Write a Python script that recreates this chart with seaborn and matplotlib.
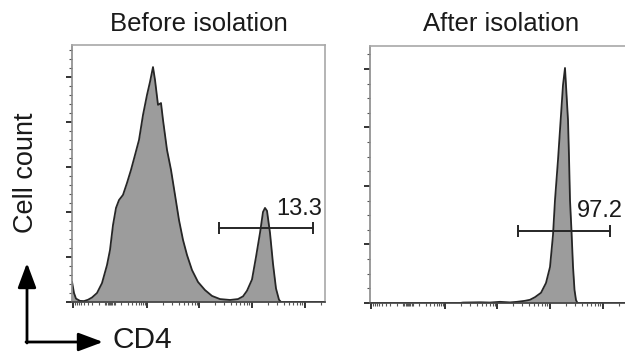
import numpy as np
import pandas as pd
import matplotlib
matplotlib.use('Agg')
import matplotlib.pyplot as plt
import seaborn as sns

# Data ======================================================================================================
# x in display channels (biexponential CD4 axis), y = cell count
before_ch = [0, 2, 4, 8, 12, 16, 20, 25, 30, 35, 38, 41, 44, 47, 51, 55, 59, 63, 67, 71, 75, 78, 81,
             83, 86, 89, 91, 95, 99, 103, 107, 111, 115, 120, 126, 133, 140, 148, 158, 166, 171, 175,
             180, 184, 188, 191, 193, 195, 198, 201, 204, 207, 209, 253]
before_count = [90, 40, 15, 5, 4, 10, 20, 40, 84, 164, 231, 342, 418, 453, 476, 529, 587, 653, 720, 831,
                920, 978, 1044, 987, 876, 884, 809, 676, 587, 476, 364, 276, 209, 142, 89, 53, 27, 13,
                9, 13, 25, 50, 100, 200, 307, 400, 418, 405, 307, 170, 60, 10, 0, 0]

after_ch = [0, 90, 93, 110, 120, 130, 140, 147, 155, 160, 165, 171, 176, 180, 183, 185, 188, 191, 193,
            195, 198, 199, 200, 201.5, 203, 204.5, 206, 207.5, 257]
after_count = [0, 0, 3, 5, 3, 8, 4, 8, 15, 22, 40, 70, 137, 246, 465, 704, 978, 1285, 1490, 1607, 1250,
               1000, 704, 492, 250, 90, 20, 0, 0]

panels = ['Before isolation', 'After isolation']
gate_pct = ['13.3', '97.2']
gate_lo = [147, 148]
gate_hi = [241, 240]
gate_y = [329, 492]
label_x = [250, 253]
label_y = [387, 588]

# Estilo =====================================================================================================
sns.set_style('ticks')
plt.rcParams['font.family'] = ['Liberation Sans', 'DejaVu Sans']

fill_c = '#9c9c9c'
line_c = '#262626'

fig = plt.figure(figsize=(6.25, 3.56), dpi=100)
ax1 = fig.add_axes([72/625, 54/356, 253/625, 257/356])
ax2 = fig.add_axes([370/625, 53/356, 257/625, 257/356])

x_major = [1, 75, 127, 180, 233]
dec = 52.7
x_minor = []
for base in [75, 127, 180, 233]:
    for k in range(2, 10):
        p = base + dec * np.log10(k)
        if p < 253:
            x_minor.append(p)
for k in range(2, 10):
    x_minor += [38 + 37 * np.log10(k), 38 - 37 * np.log10(k)]
x_minor += [38 + d for d in [-4.8, -3.6, -2.4, -1.2, 0, 1.2, 2.4, 3.6, 4.8]]

def draw(ax, ch, cnt, xmax, ymax, ymaj, ymin, i):
    df = pd.DataFrame({'ch': ch, 'count': cnt})
    ax.fill_between(df['ch'], df['count'], 0, color=fill_c, lw=0)
    sns.lineplot(data=df, x='ch', y='count', ax=ax, color=line_c, lw=1.3,
                 estimator=None, sort=False)
    ax.set_xlim(0, xmax)
    ax.set_ylim(0, ymax)
    ax.set_xticks(x_major)
    ax.set_xticks(x_minor, minor=True)
    ax.set_yticks(np.arange(0, ymax, ymaj))
    ax.set_yticks(np.arange(0, ymax, ymin), minor=True)
    ax.set_xticklabels([]); ax.set_yticklabels([])
    ax.set_xlabel(''); ax.set_ylabel('')
    ax.tick_params(which='major', direction='out', length=4.5, width=1.4, color='#333333')
    ax.tick_params(which='minor', direction='out', length=2.2, width=0.8, color='#555555')
    for s in ['top', 'right']:
        ax.spines[s].set_color('#a8a8a8')
        ax.spines[s].set_linewidth(1.2)
    ax.spines['left'].set_color('#8a8a8a')
    ax.spines['left'].set_linewidth(1.2)
    ax.spines['bottom'].set_color('#404040')
    ax.spines['bottom'].set_linewidth(1.2)

    # gate
    ax.plot([gate_lo[i], gate_hi[i]], [gate_y[i], gate_y[i]], color=line_c, lw=1.4)
    ax.plot([gate_lo[i], gate_hi[i]], [gate_y[i], gate_y[i]], ls='none', marker='|',
            ms=9, mew=1.4, color=line_c)
    ax.text(label_x[i], label_y[i], gate_pct[i], ha='right', va='baseline',
            fontsize=17, color='#1a1a1a')

draw(ax1, before_ch, before_count, 253, 1142, 200, 40, 0)
draw(ax2, after_ch, after_count, 257, 1757, 400, 100, 1)

# Titulos y ejes ==============================================================================================
fig.text(199/625, 1 - 24/356, panels[0], ha='center', va='center', fontsize=18.5, color='#1a1a1a')
fig.text(501/625, 1 - 24/356, panels[1], ha='center', va='center', fontsize=18.5, color='#1a1a1a')
fig.text(26/625, 1 - 173/356, 'Cell count', ha='center', va='center', rotation=90,
         fontsize=19.5, color='#1a1a1a')
fig.text(112/625, 1 - 340/356, 'CD4', ha='left', va='center', fontsize=21.5, color='#1a1a1a')

arrow = dict(arrowstyle='-|>,head_length=0.75,head_width=0.28', mutation_scale=20,
             lw=2.0, color='black', shrinkA=0, shrinkB=0)
ax1.annotate('', xy=(27, 356 - 263), xytext=(27, 356 - 343), xycoords='figure pixels',
             textcoords='figure pixels', arrowprops=arrow, annotation_clip=False)
ax1.annotate('', xy=(103, 356 - 342), xytext=(26, 356 - 342), xycoords='figure pixels',
             textcoords='figure pixels', arrowprops=arrow, annotation_clip=False)

plt.savefig('out.png', dpi=100)
